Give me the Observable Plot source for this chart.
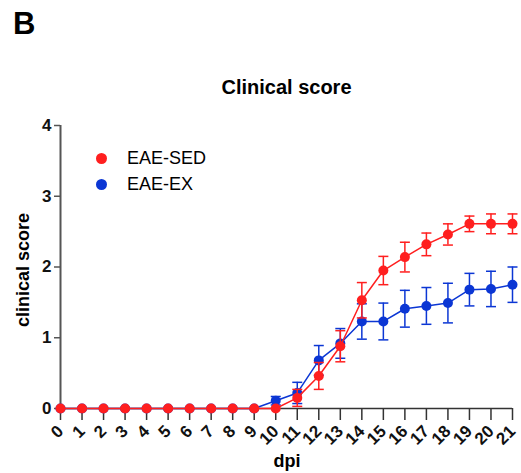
<!DOCTYPE html>
<html>
<head>
<meta charset="utf-8">
<script src="https://cdn.jsdelivr.net/npm/d3@7"></script>
<script src="https://cdn.jsdelivr.net/npm/@observablehq/plot@0.6"></script>
<style>
  body { margin: 0; background: #fff; font-family: "Liberation Sans", Arial, sans-serif; }
  #wrap { position: relative; width: 521px; height: 473px; }
  #wrap svg { position: absolute; left: 0; top: 0; }
  .panel { position: absolute; left: 13px; top: 6px; font-size: 31px; font-weight: bold; }
  .title { position: absolute; left: 0; width: 573px; top: 76px; text-align: center; font-size: 20px; font-weight: bold; }
  .xlabel { position: absolute; left: 0; width: 574px; top: 451px; text-align: center; font-size: 18px; font-weight: bold; }
  .ylabel { position: absolute; left: 23px; top: 270px; transform: translate(-50%, -50%) rotate(-90deg); white-space: nowrap; font-size: 18px; font-weight: bold; }
  .legend { position: absolute; left: 96px; top: 145px; font-size: 18px; }
  .legend div { display: flex; align-items: center; height: 26px; }
  .legend span.sw { display: inline-block; width: 11px; height: 11px; border-radius: 50%; margin-right: 20px; }
</style>
</head>
<body>
<div id="wrap">
  <div class="panel">B</div>
  <div class="title">Clinical score</div>
  <div class="ylabel">clinical score</div>
  <div class="xlabel">dpi</div>
</div>
<script>
const days = [0,1,2,3,4,5,6,7,8,9,10,11,12,13,14,15,16,17,18,19,20,21];
const seriesNames = ["EAE-SED", "EAE-EX"];
const sedMean = [0,0,0,0,0,0,0,0,0,0,0,0.15,0.46,0.88,1.53,1.95,2.14,2.32,2.46,2.61,2.61,2.61];
const sedSem  = [0,0,0,0,0,0,0,0,0,0,0,0.12,0.19,0.22,0.25,0.20,0.21,0.16,0.15,0.11,0.14,0.14];
const exMean  = [0,0,0,0,0,0,0,0,0,0,0.11,0.22,0.68,0.92,1.23,1.23,1.41,1.45,1.49,1.68,1.69,1.75];
const exSem   = [0,0,0,0,0,0,0,0,0,0,0.06,0.15,0.21,0.21,0.25,0.26,0.26,0.26,0.28,0.23,0.25,0.25];
const yTicks = [0,1,2,3,4];
const colors = {"EAE-SED": "#ff1f1f", "EAE-EX": "#0b36d4"};

const rows = [];
days.forEach((d, i) => rows.push({series: "EAE-EX", day: d, mean: exMean[i], sem: exSem[i]}));
days.forEach((d, i) => rows.push({series: "EAE-SED", day: d, mean: sedMean[i], sem: sedSem[i]}));
const withErr = rows.filter(r => r.sem > 0);

const capSymbol = {
  draw(ctx, size) {
    const w = Math.sqrt(size / Math.PI);
    ctx.moveTo(-w, 0);
    ctx.lineTo(w, 0);
  }
};

function seriesMarks(name) {
  const data = rows.filter(r => r.series === name);
  const err = withErr.filter(r => r.series === name);
  const c = colors[name];
  return [
    Plot.ruleX(err, {x: "day", y1: d => d.mean - d.sem, y2: d => d.mean + d.sem, stroke: c, strokeWidth: 1.5}),
    Plot.dot(err, {x: "day", y: d => d.mean + d.sem, symbol: capSymbol, r: 5, stroke: c, strokeWidth: 1.5, fill: "none"}),
    Plot.dot(err, {x: "day", y: d => d.mean - d.sem, symbol: capSymbol, r: 5, stroke: c, strokeWidth: 1.5, fill: "none"}),
    Plot.line(data, {x: "day", y: "mean", stroke: c, strokeWidth: 1.5}),
    Plot.dot(data, {x: "day", y: "mean", r: 5, fill: c, stroke: "none"})
  ];
}

const chart = Plot.plot({
  width: 521,
  height: 473,
  marginTop: 125,
  marginBottom: 65,
  marginLeft: 60,
  marginRight: 9,
  style: {fontFamily: "'Liberation Sans', Arial, sans-serif", background: "transparent", overflow: "visible"},
  x: {domain: [0, 21]},
  y: {domain: [0, 4]},
  marks: [
    Plot.axisY({ticks: yTicks, tickFormat: d3.format("d"), tickSize: 6, tickPadding: 3, label: null, fontSize: 17, fontWeight: "bold", stroke: "#555", strokeWidth: 1.5, color: "#111"}),
    Plot.axisX({ticks: days, tickFormat: d3.format("d"), tickSize: 12, tickPadding: 8, tickRotate: -45, label: null, fontSize: 17, fontWeight: "bold", stroke: "#333", strokeWidth: 1.5, color: "#111"}),
    Plot.ruleX([0], {y1: 0, y2: 4, stroke: "#555", strokeWidth: 2}),
    Plot.ruleY([0], {stroke: "#333", strokeWidth: 1.5}),
    ...seriesMarks("EAE-EX"),
    ...seriesMarks("EAE-SED")
  ]
});

const wrap = document.getElementById("wrap");
wrap.insertBefore(chart, wrap.firstChild);

const legend = document.createElement("div");
legend.className = "legend";
seriesNames.forEach(n => {
  const row = document.createElement("div");
  const sw = document.createElement("span");
  sw.className = "sw";
  sw.style.background = colors[n];
  row.appendChild(sw);
  row.appendChild(document.createTextNode(n));
  legend.appendChild(row);
});
wrap.appendChild(legend);
</script>
</body>
</html>
